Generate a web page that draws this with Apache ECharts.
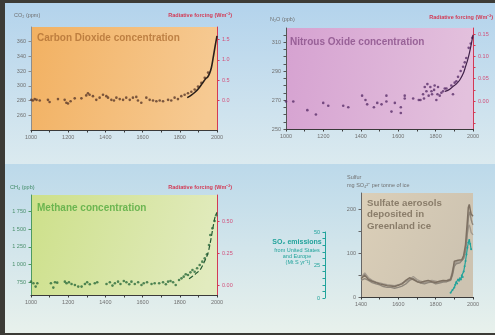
<!DOCTYPE html>
<html>
<head>
<meta charset="utf-8">
<title>Greenhouse gases and sulfate aerosols</title>
<script src="https://cdn.jsdelivr.net/npm/echarts@6/dist/echarts.min.js"></script>
<style>
  html, body { margin: 0; padding: 0; }
  #wrap { position: relative; width: 495px; height: 335px; background: #3c3b36; overflow: hidden; }
  .band { position: absolute; left: 5px; right: 0; }
  #band1 { top: 3px; height: 161px; background: linear-gradient(#b3d3ec, #dbeaef); }
  #band2 { top: 164px; height: 169px; background: linear-gradient(#bcd9ea, #e8f1ec); }
  #chart { position: absolute; left: 0; top: 0; width: 495px; height: 335px; }
</style>
</head>
<body>
<div id="wrap">
  <div class="band" id="band1"></div>
  <div class="band" id="band2"></div>
  <div id="chart"></div>
</div>
<script>
// --- data ---
// CO2, ice cores (ppm)
const co2Years  = [1002,1010,1020,1030,1047,1091,1100,1145,1181,1190,1199,1213,1235,1271,1297,1306,1315,1333,1351,1369,1387,1405,1414,1432,1446,1459,1477,1495,1512,1531,1548,1566,1575,1593,1620,1638,1656,1674,1692,1710,1737,1754,1772,1790,1808,1826,1844,1862,1880,1898,1916,1934,1952];
const co2Values = [281,280,282,281,280,281,278,282,281,277,276,279,283,283,287,290,288,286,281,284,288,286,284,281,280,284,282,281,284,281,284,285,280,277,284,281,280,279,280,279,281,280,284,282,286,288,290,292,295,299,304,311,318];
// CO2, modern record
const co2ModernYears  = [1840,1860,1880,1900,1920,1940,1950,1960,1970,1980,1990,2000];
const co2ModernValues = [284,287,291,296,303,310,312,317,325,339,354,368];

// N2O (ppb)
const n2oYears  = [1000,1039,1114,1160,1199,1226,1306,1333,1407,1425,1434,1470,1488,1511,1537,1537,1564,1582,1614,1614,1635,1635,1680,1710,1719,1733,1738,1742,1751,1756,1763,1772,1778,1781,1792,1795,1804,1810,1813,1822,1831,1840,1849,1858,1884,1893,1902,1911,1920,1934,1947,1956,1964,1977,1988,1996];
const n2oValues = [269,269,263,260,268,266,266,265,273,270,267,265,268,267,273,269,262,268,265,261,273,271,271,270,270,274,271,279,276,281,273,279,276,274,277,280,270,274,279,273,275,276,278,278,280,274,282,283,286,290,293,296,299,306,309,313];
const n2oModernYears  = [1850,1870,1890,1910,1930,1950,1960,1970,1980,1990,2000];
const n2oModernValues = [276,277,279,281,284,289,293,297,302,308,315];

// CH4 (ppb)
const ch4Years  = [1000,1013,1025,1034,1107,1120,1129,1141,1182,1191,1204,1218,1236,1254,1272,1290,1302,1316,1343,1356,1406,1424,1438,1451,1468,1481,1499,1513,1528,1540,1558,1576,1594,1606,1624,1648,1665,1689,1710,1725,1737,1750,1764,1778,1796,1809,1821,1832,1844,1857,1868,1880,1893,1907,1921,1934,1946,1957,1964,1975,1987,1996];
const ch4Values = [759,736,689,736,736,675,750,745,759,736,750,726,712,689,689,726,750,722,736,750,726,750,703,736,759,726,769,750,722,759,726,750,712,736,750,726,736,736,750,722,759,769,750,712,783,806,830,863,854,891,924,900,948,995,1042,1089,1146,1278,1420,1514,1618,1700];
const ch4ModernYears  = [1850,1870,1890,1910,1930,1950,1960,1970,1980,1990,2000];
const ch4ModernValues = [800,840,880,930,1030,1150,1260,1400,1550,1680,1740];

// sulfate in Greenland ice (mg SO4 per tonne of ice), three cores
const sulfYears   = [1400,1420,1440,1460,1480,1500,1520,1540,1560,1580,1600,1620,1640,1660,1680,1700,1720,1740,1760,1780,1800,1820,1840,1860,1880,1890,1900,1910,1920,1930,1940,1950,1960,1970,1975,1980,1985,1990,1995,2000];
const sulfCoreA   = [42,50,40,36,33,30,28,26,25,24,27,30,38,44,40,35,33,36,38,35,33,36,38,37,40,55,82,86,84,82,85,95,120,175,205,212,200,190,188,185];
const sulfCoreB   = [45,55,44,38,34,32,30,28,27,26,28,32,35,40,47,40,36,33,35,38,36,34,36,38,42,60,75,80,78,80,82,90,110,145,160,165,158,148,145,142];
const sulfCoreC   = [38,42,38,33,30,28,24,22,22,20,22,25,30,38,42,36,32,30,33,34,30,32,34,35,38,50,70,76,75,78,80,88,105,150,180,195,190,178,170,165];
// SO2 emissions, US and Europe (Mt S per year)
const so2Years  = [1880,1890,1900,1905,1910,1915,1920,1925,1930,1935,1940,1945,1950,1955,1960,1965,1970,1975,1980,1985,1990];
const so2Values = [4,6,8,10,12,11,14,13,15,14,17,16,20,24,28,33,38,42,44,41,37];

// tick labels
const yearLabels      = [1000,1200,1400,1600,1800,2000];
const sulfYearLabels  = [1400,1600,1800,2000];
const co2Labels       = [260,280,300,320,340,360];
const co2ForceLabels  = [0,0.5,1.0,1.5];
const n2oLabels       = [250,270,290,310];
const n2oTickMarks    = [250,255,260,265,270,275,280,285,290,295,300,305,310,315];
const n2oForceLabels  = [0,0.05,0.10,0.15];
const n2oForceTicks   = [-0.05,-0.025,0,0.025,0.05,0.075,0.10,0.125,0.15];
const ch4Labels       = [750,1000,1250,1500,1750];
const ch4ForceLabels  = [0,0.25,0.50];
const sulfLabels      = [0,100,200];
const sulfTickMarks   = [0,50,100,150,200];
const so2Labels       = [0,25,50];
const so2TickMarks    = [0,5,10,15,20,25,30,35,40,45,50];

const pairs = (xs, ys) => xs.map((x, i) => [x, ys[i]]);

const FONT = '"Liberation Sans", Arial, sans-serif';
const GREY = '#707070';
const RED = '#d23a55';
const TEAL = '#21a39b';

function yearAxis(gridIndex, min, labels) {
    return {
        type: 'value', gridIndex: gridIndex, min: min, max: 2000, interval: 100,
        axisLine: { show: true, onZero: false, lineStyle: { color: '#3a3a3a', width: 1.2 } },
        axisTick: { show: true, length: 2.5, lineStyle: { color: '#3a3a3a' } },
        axisLabel: { customValues: labels, color: GREY, fontSize: 5.5, fontFamily: FONT, margin: 4, formatter: v => String(v) },
        splitLine: { show: false }
    };
}

function sideAxis(gridIndex, pos, min, max, labels, ticks, color, labelColor, fmt) {
    return {
        type: 'value', gridIndex: gridIndex, position: pos, min: min, max: max,
        axisLine: { show: true, onZero: false, lineStyle: { color: color, width: 1 } },
        axisTick: { show: true, length: 2.5, customValues: ticks, lineStyle: { color: color } },
        axisLabel: { customValues: labels, color: labelColor, fontSize: 5.5, fontFamily: FONT, margin: 5, formatter: fmt || (v => String(v)) },
        splitLine: { show: false }
    };
}

function spaced(v) {
    return v >= 1000 ? Math.floor(v / 1000) + ' ' + String(v % 1000).padStart(3, '0') : String(v);
}

function grad(x2, y2, c0, c1) {
    return { type: 'linear', x: 0, y: 0, x2: x2, y2: y2, colorStops: [{ offset: 0, color: c0 }, { offset: 1, color: c1 }] };
}

function label(x, y, text, font, fill, align) {
    return { type: 'text', x: x, y: y, z: 5, silent: true,
        style: { text: text, font: font, fill: fill, textAlign: align || 'left', textVerticalAlign: 'middle' } };
}

const myChart = echarts.init(document.getElementById('chart'), null, { renderer: 'canvas' });

const option = {
    animation: false,
    grid: [
        { left: 31, top: 27, width: 186, height: 103, show: true, borderWidth: 0, backgroundColor: grad(1, 0.4, '#f2b162', '#f6ca93') },
        { left: 286, top: 28, width: 187, height: 101, show: true, borderWidth: 0, backgroundColor: grad(1, 0.3, '#d6a2d1', '#e3c1dd') },
        { left: 31, top: 195, width: 186, height: 100, show: true, borderWidth: 0, backgroundColor: grad(1, 0.6, '#cde08a', '#e2ebbf') },
        { left: 361, top: 193, width: 112, height: 104, show: true, borderWidth: 0, backgroundColor: grad(1, 0.5, '#dbcfb8', '#cdc3b1') },
        { left: 361, top: 232, width: 112, height: 66, show: false }
    ],
    xAxis: [
        yearAxis(0, 1000, yearLabels),
        yearAxis(1, 1000, yearLabels),
        yearAxis(2, 1000, yearLabels),
        yearAxis(3, 1400, sulfYearLabels),
        { type: 'value', gridIndex: 4, min: 1400, max: 2000, show: false }
    ],
    yAxis: [
        sideAxis(0, 'left', 240, 380, co2Labels, co2Labels, '#8d8d8d', GREY),
        sideAxis(0, 'right', -0.722, 1.81, co2ForceLabels, co2ForceLabels, RED, '#d2507a', v => v.toFixed(1)),
        sideAxis(1, 'left', 250, 319.7, n2oLabels, n2oTickMarks, '#555555', GREY),
        sideAxis(1, 'right', -0.0627, 0.1634, n2oForceLabels, n2oForceTicks, RED, '#d2507a', v => v.toFixed(2)),
        sideAxis(2, 'left', 570, 1986, ch4Labels, ch4Labels, '#4d9a62', '#4a8f6c', spaced),
        sideAxis(2, 'right', -0.078, 0.703, ch4ForceLabels, ch4ForceLabels, RED, '#d2507a', v => v.toFixed(2)),
        sideAxis(3, 'left', 0, 238, sulfLabels, sulfTickMarks, '#666666', GREY),
        Object.assign(sideAxis(4, 'left', 0, 50, so2Labels, so2TickMarks, TEAL, TEAL), { offset: 36 })
    ],
    series: [
        { type: 'scatter', xAxisIndex: 0, yAxisIndex: 0, data: pairs(co2Years, co2Values), symbolSize: 2.6, itemStyle: { color: '#5b3a2a' } },
        { type: 'line', xAxisIndex: 0, yAxisIndex: 0, data: pairs(co2ModernYears, co2ModernValues), showSymbol: false, smooth: 0.3, lineStyle: { color: '#2a201a', width: 1.6 } },
        { type: 'scatter', xAxisIndex: 1, yAxisIndex: 2, data: pairs(n2oYears, n2oValues), symbolSize: 2.6, itemStyle: { color: '#5a2f6a' } },
        { type: 'line', xAxisIndex: 1, yAxisIndex: 2, data: pairs(n2oModernYears, n2oModernValues), showSymbol: false, smooth: 0.3, lineStyle: { color: '#3f2048', width: 1.2 } },
        { type: 'scatter', xAxisIndex: 2, yAxisIndex: 4, data: pairs(ch4Years, ch4Values), symbolSize: 2.6, itemStyle: { color: '#2c6b3c' } },
        { type: 'line', xAxisIndex: 2, yAxisIndex: 4, data: pairs(ch4ModernYears, ch4ModernValues), showSymbol: false, smooth: 0.3, lineStyle: { color: '#245a33', width: 1.2, type: 'dashed' } },
        { type: 'line', xAxisIndex: 3, yAxisIndex: 6, data: pairs(sulfYears, sulfCoreB), showSymbol: false, lineStyle: { color: '#a39a8e', width: 1.4 } },
        { type: 'line', xAxisIndex: 3, yAxisIndex: 6, data: pairs(sulfYears, sulfCoreC), showSymbol: false, lineStyle: { color: '#8f877c', width: 1.4 } },
        { type: 'line', xAxisIndex: 3, yAxisIndex: 6, data: pairs(sulfYears, sulfCoreA), showSymbol: false, lineStyle: { color: '#7d7062', width: 1.5 } },
        { type: 'line', xAxisIndex: 4, yAxisIndex: 7, data: pairs(so2Years, so2Values), symbol: 'circle', symbolSize: 2, itemStyle: { color: TEAL }, lineStyle: { color: TEAL, width: 1.2 } }
    ],
    graphic: [
        // panel titles
        label(37, 38, 'Carbon Dioxide concentration', 'bold 10px ' + FONT, 'rgba(176,112,52,0.8)'),
        label(290, 42, 'Nitrous Oxide concentration', 'bold 10px ' + FONT, 'rgba(140,84,140,0.85)'),
        label(37, 208, 'Methane concentration', 'bold 10px ' + FONT, 'rgba(96,176,72,0.9)'),
        label(367, 203, 'Sulfate aerosols', 'bold 9.7px ' + FONT, '#8a7d6a'),
        label(367, 214.5, 'deposited in', 'bold 9.7px ' + FONT, '#8a7d6a'),
        label(367, 226, 'Greenland ice', 'bold 9.7px ' + FONT, '#8a7d6a'),
        // axis names
        label(14, 15, 'CO₂ (ppm)', '5.5px ' + FONT, GREY),
        label(232, 15, 'Radiative forcing (Wm⁻²)', 'bold 5.5px ' + FONT, RED, 'right'),
        label(270, 19, 'N₂O (ppb)', '5.5px ' + FONT, GREY),
        label(493, 17, 'Radiative forcing (Wm⁻²)', 'bold 5.5px ' + FONT, RED, 'right'),
        label(10, 187, 'CH₄ (ppb)', '5.5px ' + FONT, '#3f8a66'),
        label(232, 187, 'Radiative forcing (Wm⁻²)', 'bold 5.5px ' + FONT, RED, 'right'),
        label(347, 177, 'Sulfur', '5.5px ' + FONT, GREY),
        label(347, 185, 'mg SO₄²⁻ per tonne of ice', '5.5px ' + FONT, GREY),
        label(297, 242, 'SO₂ emissions', 'bold 7px ' + FONT, TEAL, 'center'),
        label(297, 250.5, 'from United States', '5.5px ' + FONT, TEAL, 'center'),
        label(297, 256.5, 'and Europe', '5.5px ' + FONT, TEAL, 'center'),
        label(298, 262.5, '(Mt S yr⁻¹)', '5.5px ' + FONT, TEAL, 'center')
    ]
};

myChart.setOption(option);
</script>
</body>
</html>
